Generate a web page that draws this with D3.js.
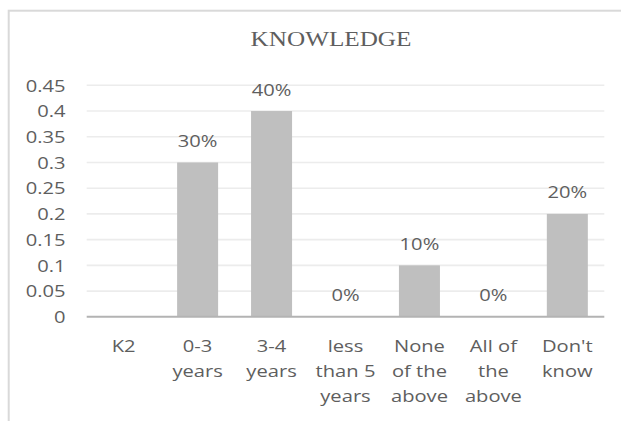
<!DOCTYPE html>
<html>
<head>
<meta charset="utf-8">
<script src="https://cdnjs.cloudflare.com/ajax/libs/d3/7.8.5/d3.min.js"></script>
<style>
  html, body { margin: 0; padding: 0; background: #ffffff; }
  svg { display: block; }
</style>
</head>
<body>
<svg id="chart" width="621" height="421"></svg>
<script>
// Survey answers: share of respondents per option
const categories = ["K2", "0-3\nyears", "3-4\nyears", "less\nthan 5\nyears", "None\nof the\nabove", "All of\nthe\nabove", "Don't\nknow"];
const values = [null, 0.30, 0.40, 0.00, 0.10, 0.00, 0.20];
const yTicks = [0, 0.05, 0.1, 0.15, 0.2, 0.25, 0.3, 0.35, 0.4, 0.45];
const yTickLabels = ["0", "0.05", "0.1", "0.15", "0.2", "0.25", "0.3", "0.35", "0.4", "0.45"];
const title = "KNOWLEDGE";

const textColor = "#5e5e5e";
const stretch = 1.26; // wide text rendering
const svg = d3.select("#chart");

// outer chart frame
svg.append("rect")
  .attr("x", 8.7).attr("y", 10.7)
  .attr("width", 800).attr("height", 600)
  .attr("fill", "#ffffff")
  .attr("stroke", "#d9d9d9")
  .attr("stroke-width", 2);

const plot = { left: 86.7, right: 604.3, top: 85.3, bottom: 316.8 };

const x = d3.scaleBand()
  .domain(categories)
  .range([plot.left, plot.right])
  .paddingInner(0.4455)
  .paddingOuter(0.4455 / 2);

const y = d3.scaleLinear()
  .domain([0, 0.45])
  .range([plot.bottom, plot.top]);

// horizontal gridlines
svg.append("g")
  .selectAll("line")
  .data(yTicks.filter(t => t > 0))
  .join("line")
  .attr("x1", plot.left).attr("x2", plot.right)
  .attr("y1", d => y(d)).attr("y2", d => y(d))
  .attr("stroke", "#ececec")
  .attr("stroke-width", 1.6);

// y axis labels
const yAxis = d3.axisLeft(y)
  .tickValues(yTicks)
  .tickSize(0)
  .tickPadding(0)
  .tickFormat((d, i) => yTickLabels[i]);

const gy = svg.append("g")
  .attr("transform", "translate(65.5,0)")
  .call(yAxis);
gy.select(".domain").remove();
gy.selectAll("text")
  .attr("x", null).attr("dy", null)
  .attr("transform", `translate(0,5.8) scale(${stretch},1)`)
  .attr("fill", textColor)
  .style("font-family", "'Open Sans', sans-serif")
  .style("font-size", "16px");

// bars
const barData = categories.map((c, i) => ({ c, v: values[i] })).filter(d => d.v !== null);
svg.append("g")
  .selectAll("rect")
  .data(barData)
  .join("rect")
  .attr("x", d => x(d.c))
  .attr("y", d => y(d.v))
  .attr("width", x.bandwidth())
  .attr("height", d => y(0) - y(d.v))
  .attr("fill", "#bfbfbf");

// baseline
svg.append("line")
  .attr("x1", plot.left).attr("x2", plot.right)
  .attr("y1", y(0)).attr("y2", y(0))
  .attr("stroke", "#b3b3b3")
  .attr("stroke-width", 2);

// value labels
const pct = d3.format(".0%");
svg.append("g")
  .selectAll("text")
  .data(barData)
  .join("text")
  .attr("transform", d => `translate(${x(d.c) + x.bandwidth() / 2},${y(d.v) - 15.5}) scale(${stretch},1)`)
  .attr("text-anchor", "middle")
  .attr("fill", textColor)
  .style("font-family", "'Open Sans', sans-serif")
  .style("font-size", "16px")
  .text(d => pct(d.v));

// category labels, wrapped over lines
const xl = svg.append("g")
  .selectAll("g")
  .data(categories)
  .join("g")
  .attr("transform", d => `translate(${x(d) + x.bandwidth() / 2},351.7)`);
xl.selectAll("text")
  .data(d => d.split("\n"))
  .join("text")
  .attr("transform", (d, i) => `translate(0,${i * 25}) scale(${stretch},1)`)
  .attr("text-anchor", "middle")
  .attr("fill", textColor)
  .style("font-family", "'Open Sans', sans-serif")
  .style("font-size", "16px")
  .text(d => d);

// title
svg.append("text")
  .attr("transform", `translate(331,45.7) scale(${stretch},1)`)
  .attr("text-anchor", "middle")
  .attr("fill", textColor)
  .style("font-family", "'Liberation Serif', 'Times New Roman', serif")
  .style("font-size", "20px")
  .text(title);
</script>
</body>
</html>
